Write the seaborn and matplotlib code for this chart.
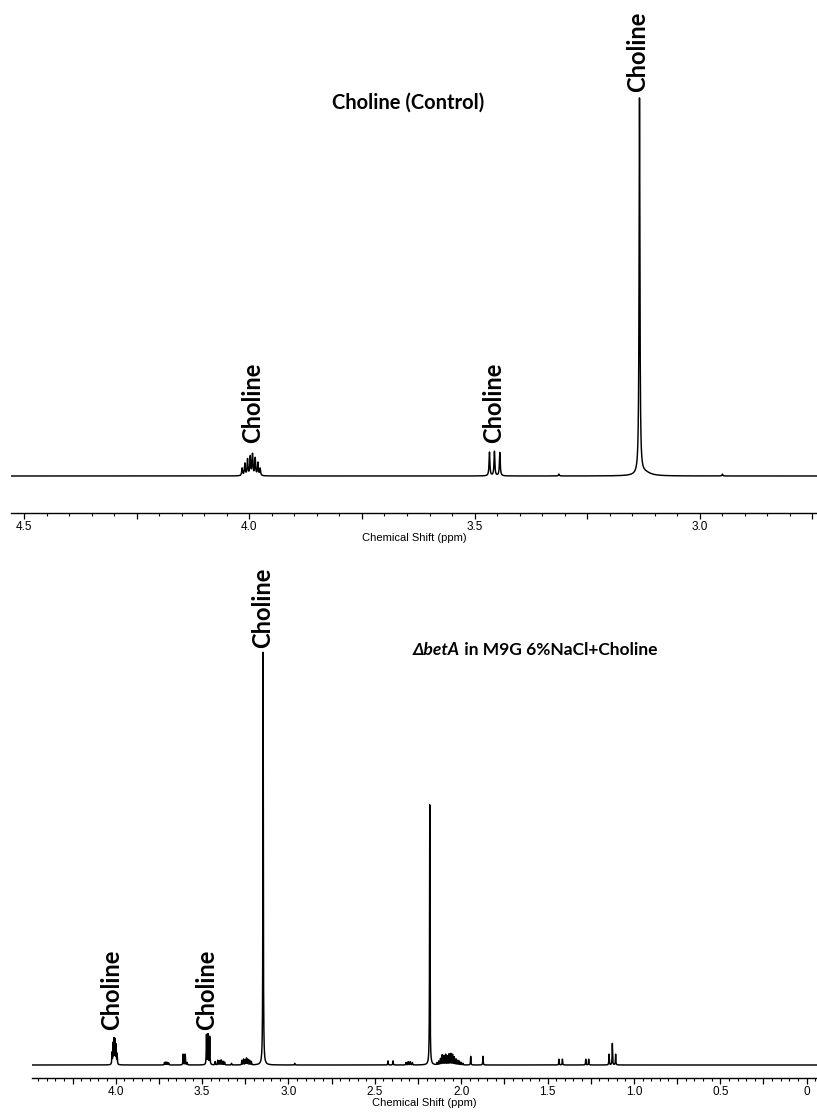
import numpy as np
import pandas as pd
import matplotlib
matplotlib.use("Agg")
import matplotlib.pyplot as plt
from matplotlib.ticker import MultipleLocator, FuncFormatter
import seaborn as sns

# ---- Peak tables: chemical shift (ppm) and relative intensity (tallest = 100) ----
control_ppm = [4.016, 4.010, 4.004, 3.998, 3.993, 3.987, 3.981, 3.976,
               3.467, 3.456, 3.444, 3.313, 3.134, 2.950]
control_int = [2.0, 3.2, 4.3, 5.0, 5.6, 4.6, 3.4, 1.9,
               6.3, 6.5, 6.2, 0.5, 100.0, 0.5]
control_tail_ppm = [3.122]
control_tail_int = [0.9]

mutant_ppm = [4.022, 4.016, 4.010, 4.004, 3.998, 3.992,
              3.718, 3.710, 3.702, 3.694,
              3.610, 3.598, 3.587,
              3.475, 3.466, 3.456,
              3.425, 3.410, 3.400, 3.390, 3.380, 3.370, 3.330,
              3.270, 3.260, 3.250, 3.243, 3.235, 3.225, 3.215,
              3.147, 2.964,
              2.424, 2.395, 2.320, 2.307, 2.295, 2.283,
              2.182,
              2.140, 2.130, 2.120, 2.110, 2.100, 2.090, 2.080, 2.070,
              2.060, 2.050, 2.040, 2.030, 2.020, 2.010, 2.000, 1.990,
              1.945, 1.874, 1.434, 1.414, 1.279, 1.262,
              1.144, 1.125, 1.106]
mutant_int = [2.8, 5.0, 6.0, 5.8, 4.6, 2.5,
              0.6, 0.7, 0.6, 0.5,
              2.6, 2.6, 0.6,
              7.2, 7.3, 6.8,
              0.8, 1.1, 1.0, 1.2, 0.9, 0.7, 0.4,
              1.1, 1.4, 1.2, 1.6, 1.3, 1.1, 0.8,
              100.0, 0.4,
              1.0, 1.0, 0.6, 0.8, 0.8, 0.6,
              63.0,
              0.5, 0.9, 1.5, 2.4, 2.2, 2.5, 2.1, 2.6,
              2.7, 2.5, 1.9, 1.4, 1.1, 0.9, 0.6, 0.4,
              2.1, 2.1, 1.4, 1.4, 1.4, 1.4,
              2.6, 5.2, 2.6]

control_title = "Choline (Control)"
mutant_title_italic = "\u0394betA"
mutant_title_rest = " in M9G 6%NaCl+Choline"
peak_label = "Choline"
axis_label = "Chemical Shift (ppm)"

# Vertical peak labels: (ppm, height of label base)
control_labels = [(3.993, 8.8), (3.458, 8.8), (3.138, 102.0)]
mutant_labels = [(4.023, 8.5), (3.473, 8.5), (3.149, 101.0)]


def lorentz_sum(grid, centers, heights, fwhm):
    hw = fwhm / 2.0
    y = np.zeros_like(grid)
    for c, h in zip(centers, heights):
        y += h / (1.0 + ((grid - c) / hw) ** 2)
    return y


sns.set_theme(style="white")
plt.rcParams["font.family"] = ["Liberation Sans", "DejaVu Sans"]
plt.rcParams["axes.linewidth"] = 1.0
plt.rcParams["text.color"] = "black"
plt.rcParams["axes.labelcolor"] = "black"
plt.rcParams["xtick.color"] = "black"
plt.rcParams["xtick.labelcolor"] = "black"

fig = plt.figure(figsize=(8.17, 11.2), dpi=100)

# ---- top panel: choline control ----
grid_c = np.linspace(4.529, 2.74, 18000)
spec_c = (lorentz_sum(grid_c, control_ppm, control_int, 0.0022)
          + lorentz_sum(grid_c, control_tail_ppm, control_tail_int, 0.03))
df_c = pd.DataFrame({"ppm": grid_c, "intensity": spec_c})

ax1 = fig.add_axes([11 / 817, 1 - 513 / 1120, 1 - 11 / 817, 508 / 1120])
sns.lineplot(data=df_c, x="ppm", y="intensity", ax=ax1, color="black",
             linewidth=1.05, estimator=None, sort=False)
ax1.set_xlim(4.529, 2.74)
ax1.set_ylim(-37 / 3.76, 471 / 3.76)

# ---- bottom panel: betA mutant ----
grid_m = np.linspace(4.485, -0.06, 36000)
spec_m = lorentz_sum(grid_m, mutant_ppm, mutant_int, 0.0028)
df_m = pd.DataFrame({"ppm": grid_m, "intensity": spec_m})

ax2 = fig.add_axes([32 / 817, 1 - 1078 / 1120, 1 - 32 / 817, 523 / 1120])
sns.lineplot(data=df_m, x="ppm", y="intensity", ax=ax2, color="black",
             linewidth=1.05, estimator=None, sort=False)
ax2.set_xlim(4.485, -0.06)
ax2.set_ylim(-13 / 4.13, 510 / 4.13)


def half_labels(v, pos):
    if abs(v * 2 - round(v * 2)) < 1e-6:
        return "0" if abs(v) < 1e-6 else f"{v:.1f}"
    return ""


for ax in (ax1, ax2):
    sns.despine(ax=ax, left=True, top=True, right=True)
    ax.spines["bottom"].set_color("black")
    ax.set_yticks([])
    ax.set_ylabel("")
    ax.xaxis.set_major_locator(MultipleLocator(0.25))
    ax.xaxis.set_minor_locator(MultipleLocator(0.05))
    ax.xaxis.set_major_formatter(FuncFormatter(half_labels))
    ax.tick_params(axis="x", which="major", direction="out", length=4,
                   width=0.9, color="black", labelsize=8.5, pad=1.5,
                   bottom=True, labelcolor="black")
    ax.tick_params(axis="x", which="minor", direction="out", length=2.3,
                   width=0.8, color="black", bottom=True)
    ax.set_xlabel(axis_label, fontsize=8, labelpad=0.5, color="black")
    ax.grid(False)
    ax.patch.set_alpha(0)

bold_font = ["Lato", "DejaVu Sans"]

ax1.text(3.647, 99.2, control_title, ha="center", va="center",
         fontsize=14.5, fontweight="bold", family=bold_font, color="black")
for x, y in control_labels:
    ax1.text(x, y, peak_label, rotation=90, ha="center", va="bottom",
             fontsize=17, fontweight="bold", family=bold_font, color="black")

t_it = ax2.text(2.281, 100.5, mutant_title_italic, ha="left", va="center",
                fontsize=12.5, fontweight="bold", fontstyle="italic",
                family=bold_font, color="black")
ax2.annotate(mutant_title_rest, xy=(1, 0), xycoords=t_it,
             ha="left", va="bottom", fontsize=12.5, fontweight="bold",
             family=bold_font, color="black")
for x, y in mutant_labels:
    ax2.text(x, y, peak_label, rotation=90, ha="center", va="bottom",
             fontsize=17, fontweight="bold", family=bold_font, color="black")

fig.savefig("out.png", dpi=100)
